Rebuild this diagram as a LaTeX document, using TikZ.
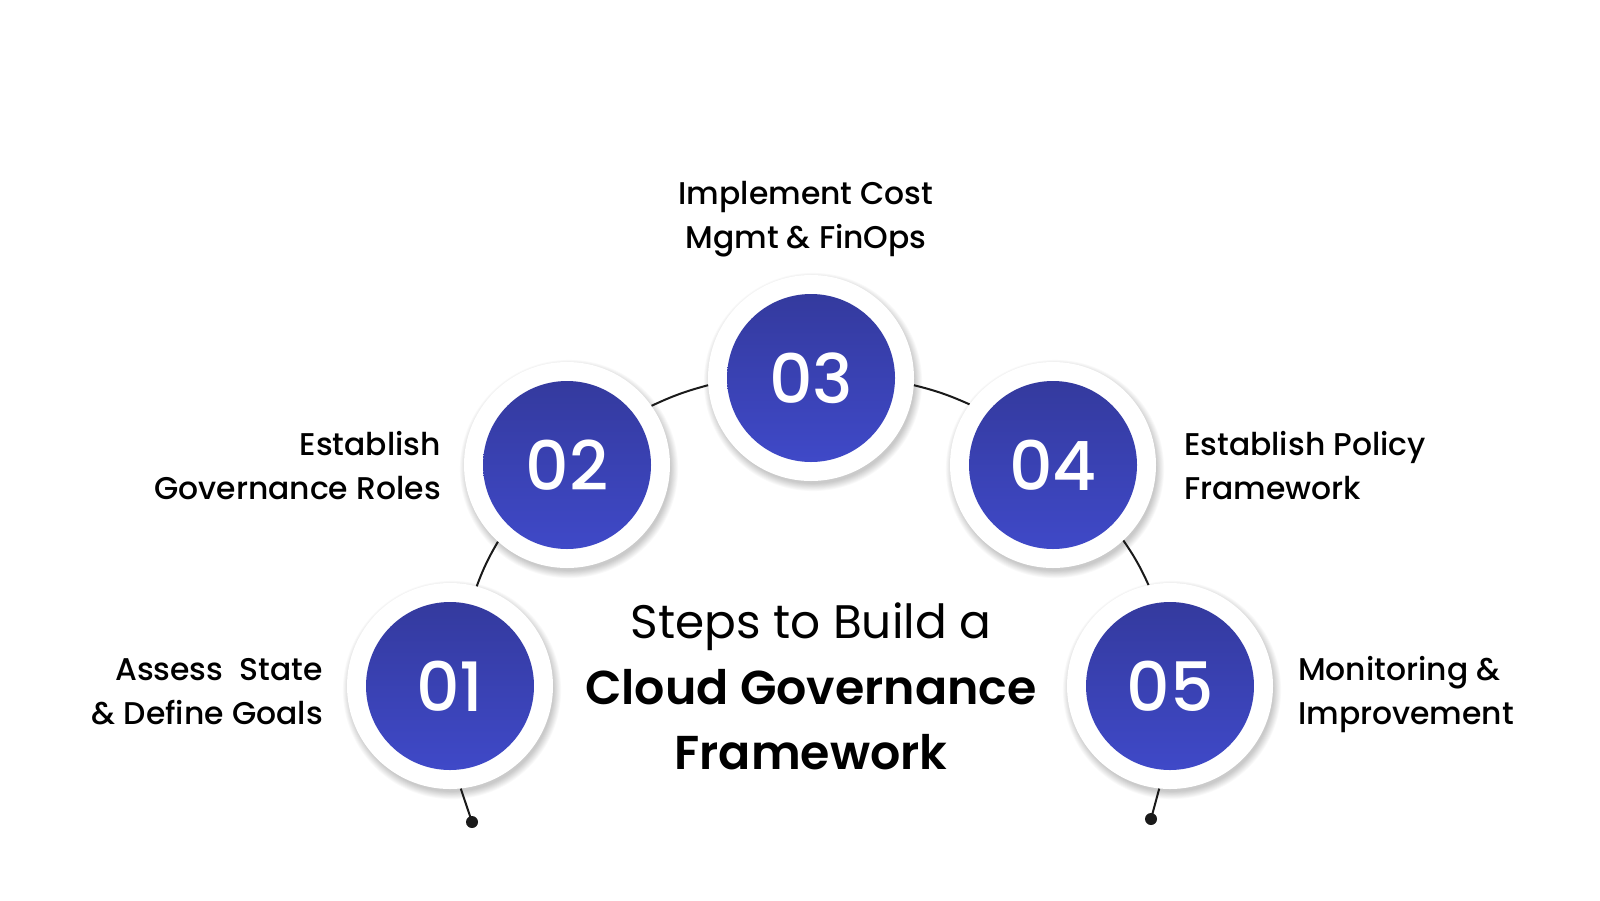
\documentclass[tikz,border=0pt]{standalone}
\usepackage{fontspec}
\setmainfont{Poppins}
\newfontfamily\popmed{Poppins Medium}
\newfontfamily\popsemi{Poppins SemiBold}
\definecolor{discTop}{HTML}{343A9E}
\definecolor{discBot}{HTML}{3F49C8}
\definecolor{linkcol}{HTML}{1A1A1A}
\begin{document}
\begin{tikzpicture}[x=1pt,y=-1pt,
  ring/.style={circle, fill=white, minimum size=206pt, inner sep=0pt},
  disc/.style={circle, minimum size=168pt, inner sep=0pt, top color=discTop, bottom color=discBot, text=white, font=\popmed\fontsize{68}{68}\selectfont},
  link/.style={line width=2pt, draw=linkcol},
  lbl/.style={font=\popmed\fontsize{31.4}{44}\selectfont, inner sep=0pt, text=black},
  dotmark/.style={circle, fill=linkcol, minimum size=12pt, inner sep=0pt}
]
\useasboundingbox (0,0) rectangle (1600,900);
\fill[white] (0,0) rectangle (1600,900);
% soft shadows
\foreach \cx/\cy in {450/686, 567/465, 811/378, 1053/465, 1170/686}{
  \foreach \k in {1,...,9}{
    \fill[black, opacity=0.024] (\cx+2,\cy+4) circle (101+\k*0.9);
  }
}
% rings
\node[ring] (r1) at (450,686) {};
\node[ring] (r2) at (567,465) {};
\node[ring] (r3) at (811,378) {};
\node[ring] (r4) at (1053,465) {};
\node[ring] (r5) at (1170,686) {};
% connectors
\draw[link] (r1.75.6) to[bend left=5] (r2.228.9);
\draw[link] (r2.35.2) to[bend left=5] (r3.184.4);
\draw[link] (r3.-4.4) to[bend left=5] (r4.144.5);
\draw[link] (r4.-47.7) to[bend left=5] (r5.102.8);
\coordinate (t1) at (472,822);
\coordinate (t5) at (1151,819);
\draw[link] (r1.-84) -- (t1);
\draw[link] (r5.-96) -- (t5);
\node[dotmark] (dt1) at (t1) {};
\node[dotmark] (dt5) at (t5) {};
% discs
\node[disc] (d1) at (450,686) {01};
\node[disc] (d2) at (567,465) {02};
\node[disc] (d3) at (811,378) {03};
\node[disc] (d4) at (1053,465) {04};
\node[disc] (d5) at (1170,686) {05};
% labels
\node[lbl, align=center] (l3) at (806,219) {Implement Cost\\Mgmt \& FinOps};
\node[lbl, align=right, anchor=east] (l2) at (441,466) {Establish\\Governance Roles};
\node[lbl, align=right, anchor=east] (l1) at (323,692) {Assess\ \ State\\\& Define Goals};
\node[lbl, align=left, anchor=west] (l4) at (1184,466) {Establish Policy\\Framework};
\node[lbl, align=left, anchor=west] (l5) at (1298,695) {Monitoring \&\\Improvement};
% title
\node[font=\fontsize{47}{47}\selectfont, inner sep=0pt] (t1a) at (811,627) {Steps to Build a};
\node[font=\popsemi\fontsize{47.5}{47.5}\selectfont, inner sep=0pt] (t1b) at (811,687) {Cloud Governance};
\node[font=\popsemi\fontsize{47.5}{47.5}\selectfont, inner sep=0pt] (t1c) at (811,752) {Framework};
\end{tikzpicture}
\end{document}
